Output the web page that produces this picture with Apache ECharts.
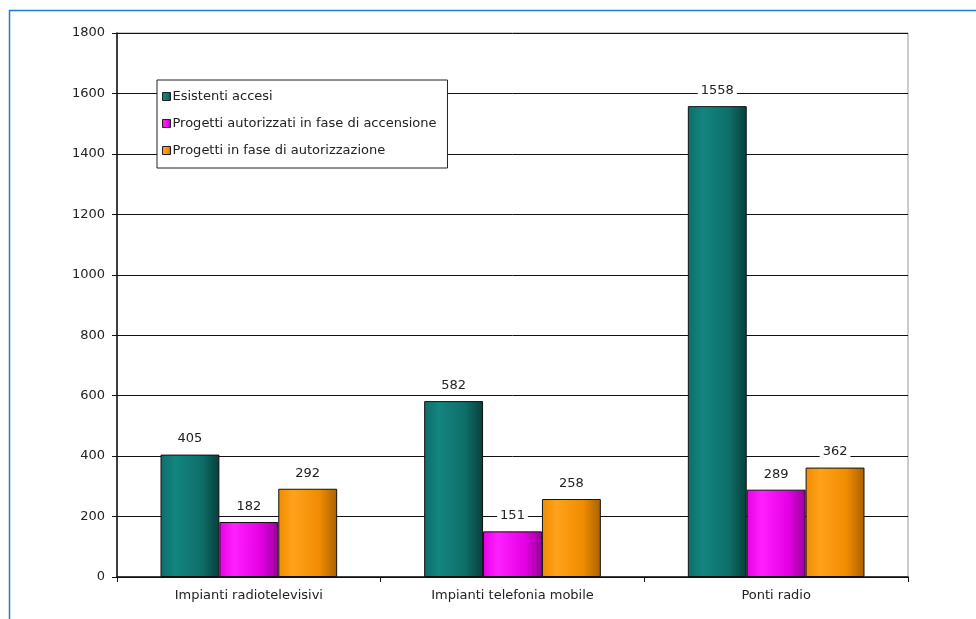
<!DOCTYPE html>
<html>
<head>
<meta charset="utf-8">
<script src="https://cdn.jsdelivr.net/npm/echarts@6/dist/echarts.min.js"></script>
<style>
  html, body { margin: 0; padding: 0; background: #fff; }
  #chart { width: 976px; height: 619px; }
</style>
</head>
<body>
<div id="chart"></div>
<script>
// Categories and series values
const categories = ['Impianti radiotelevisivi', 'Impianti telefonia mobile', 'Ponti radio'];
const esistentiAccesi = [405, 582, 1558];
const progettiAutorizzati = [182, 151, 289];
const progettiInAutorizzazione = [292, 258, 362];
const seriesNames = [
  'Esistenti accesi',
  'Progetti autorizzati in fase di accensione',
  'Progetti in fase di autorizzazione'
];
const yTicks = [0, 200, 400, 600, 800, 1000, 1200, 1400, 1600, 1800];

const FONT = '"DejaVu Sans", Verdana, sans-serif';

function shade(light, mid, dark) {
  return new echarts.graphic.LinearGradient(0, 0, 1, 0, [
    { offset: 0, color: mid },
    { offset: 0.25, color: light },
    { offset: 0.7, color: mid },
    { offset: 1, color: dark }
  ]);
}

const fills = [
  shade('#13857f', '#0e6e69', '#073f3c'),
  shade('#ff20ff', '#e600e6', '#9a009a'),
  shade('#ffa21a', '#f08c00', '#a86200')
];
const legendColors = ['#0e6e69', '#e600e6', '#f08c00'];

function barSeries(i, data) {
  return {
    name: seriesNames[i],
    type: 'bar',
    data: data,
    barGap: '0%',
    barCategoryGap: '33%',
    itemStyle: { color: fills[i], borderColor: '#111', borderWidth: 1 },
    label: {
      show: true,
      position: 'top',
      distance: 8,
      color: '#222',
      fontFamily: FONT,
      fontSize: 13,
      backgroundColor: '#fff',
      padding: [1, 3]
    },
    emphasis: { disabled: true }
  };
}

const chart = echarts.init(document.getElementById('chart'), null, { renderer: 'canvas' });
chart.setOption({
  animation: false,
  backgroundColor: '#fff',
  color: legendColors,
  graphic: [{
    type: 'rect',
    shape: { x: 9.5, y: 10.5, width: 1000, height: 700 },
    style: { fill: 'none', stroke: '#1a7fd6', lineWidth: 1.5 },
    silent: true
  }],
  legend: {
    orient: 'vertical',
    left: 157,
    top: 80,
    backgroundColor: '#fff',
    borderColor: '#222',
    borderWidth: 1,
    padding: [10, 11, 11, 5],
    itemGap: 14,
    itemWidth: 8,
    itemHeight: 8,
    icon: 'rect',
    textStyle: { fontFamily: FONT, fontSize: 13, color: '#222', padding: [0, 0, 0, -3] },
    itemStyle: { borderColor: '#222', borderWidth: 1 },
    data: seriesNames
  },
  grid: { left: 117, right: 68, top: 33, bottom: 42, show: true, borderColor: '#999', borderWidth: 1 },
  xAxis: {
    type: 'category',
    data: categories,
    axisLine: { lineStyle: { color: '#111', width: 1.5 } },
    axisTick: { show: true, length: 5, lineStyle: { color: '#111' } },
    axisLabel: { fontFamily: FONT, fontSize: 13, color: '#222', margin: 12 }
  },
  yAxis: {
    type: 'value',
    min: yTicks[0],
    max: yTicks[yTicks.length - 1],
    interval: 200,
    axisLine: { show: true, lineStyle: { color: '#111', width: 1.5 } },
    axisTick: { show: true, length: 5, lineStyle: { color: '#111' } },
    axisLabel: {
      fontFamily: FONT, fontSize: 13, color: '#222', margin: 12,
      formatter: function (v) { return String(v); }
    },
    splitLine: { lineStyle: { color: '#111', width: 1 } }
  },
  series: [
    barSeries(0, esistentiAccesi),
    barSeries(1, progettiAutorizzati),
    barSeries(2, progettiInAutorizzazione)
  ]
});
</script>
</body>
</html>
